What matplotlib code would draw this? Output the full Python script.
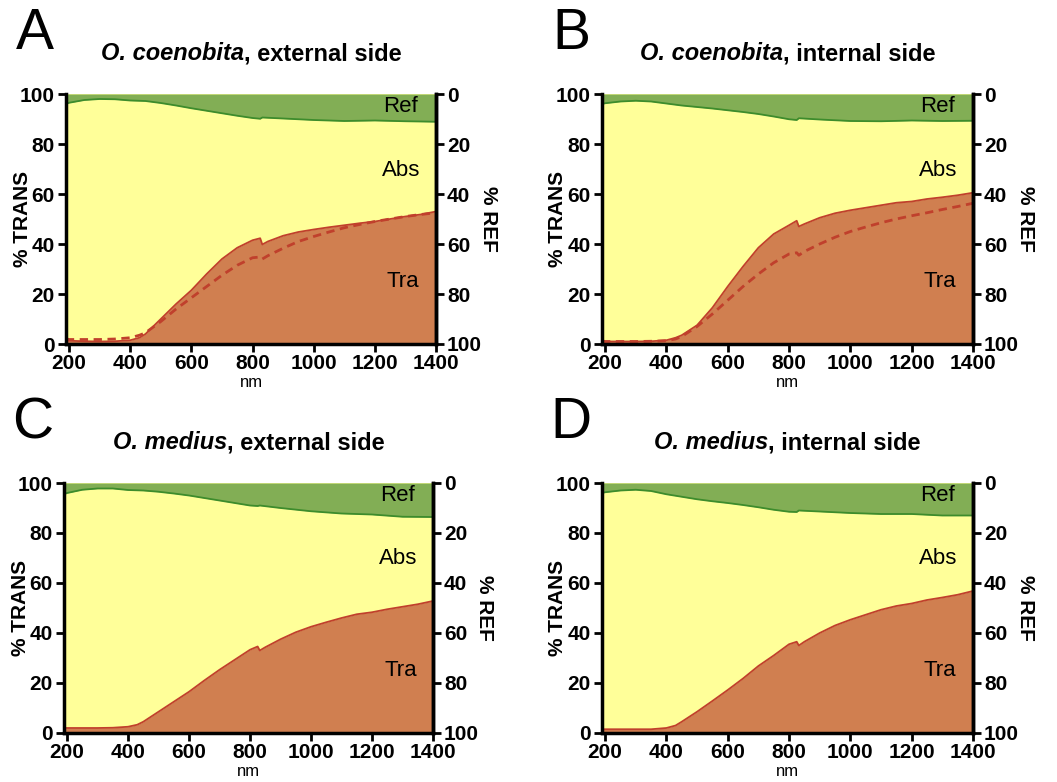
"""
Reflectance / absorbance / transmittance spectra of Ophiocoma shells.
"""
import numpy as np
import matplotlib.pyplot as plt

plt.rcParams['font.family'] = ['Liberation Sans', 'DejaVu Sans']
plt.rcParams['font.weight'] = 'bold'

# wavelength grids (nm)
wl_ref = [190, 200, 250, 300, 350, 400, 450, 500, 550, 600, 650, 700, 750,
          800, 825, 832, 900, 1000, 1100, 1200, 1300, 1400]
wl_tra = [190, 193, 200, 250, 300, 350, 400, 430, 450, 500, 550, 600, 650,
          700, 750, 800, 825, 832, 850, 900, 950, 1000, 1050, 1100, 1150,
          1200, 1250, 1300, 1350, 1400]

# upper edge of absorbance band (100 - %REF), per panel
ref_A = [96.0, 96.5, 97.6, 98.0, 97.9, 97.4, 97.2, 96.4, 95.4, 94.3, 93.3, 92.3,
         91.3, 90.4, 90.1, 90.6, 90.2, 89.6, 89.2, 89.4, 89.1, 88.9]
ref_B = [96.0, 96.3, 97.0, 97.3, 97.0, 96.2, 95.4, 94.8, 94.2, 93.5, 92.8, 92.0,
         91.0, 89.9, 89.6, 90.3, 89.8, 89.2, 89.1, 89.4, 89.2, 89.3]
ref_C = [95.5, 96.0, 97.3, 97.8, 97.8, 97.2, 97.0, 96.5, 95.8, 95.0, 94.0, 93.0,
         92.0, 91.0, 90.8, 91.0, 90.0, 88.7, 87.8, 87.4, 86.5, 86.4]
ref_D = [96.0, 96.3, 97.0, 97.3, 96.8, 95.5, 94.5, 93.5, 92.7, 92.0, 91.2, 90.3,
         89.3, 88.5, 88.4, 89.0, 88.6, 88.0, 87.6, 87.6, 87.0, 87.0]

# % transmittance
tra_A = [3.5, 1.5, 1.3, 1.1, 1.0, 1.1, 1.5, 2.5, 4.0, 10.0, 16.0, 21.5, 28.0, 34.0,
         38.5, 41.5, 42.3, 39.8, 41.0, 43.3, 44.8, 45.8, 46.7, 47.5, 48.3, 49.0,
         50.0, 51.0, 51.8, 53.0]
tra_B = [3.5, 1.5, 1.0, 1.0, 1.0, 1.1, 1.5, 2.5, 3.5, 7.5, 14.5, 23.0, 31.0, 38.5,
         44.0, 47.5, 49.3, 47.0, 48.0, 50.5, 52.3, 53.5, 54.5, 55.5, 56.5, 57.0,
         58.0, 58.7, 59.5, 60.5]
tra_C = [4.0, 2.0, 2.0, 2.0, 2.0, 2.1, 2.5, 3.3, 4.5, 8.5, 12.5, 16.5, 21.0, 25.3,
         29.3, 33.3, 34.6, 33.0, 34.3, 37.5, 40.3, 42.5, 44.3, 46.0, 47.5, 48.3,
         49.5, 50.5, 51.5, 52.8]
tra_D = [3.5, 1.5, 1.5, 1.5, 1.5, 1.5, 2.0, 3.0, 4.5, 8.5, 12.8, 17.2, 21.8, 26.8,
         31.0, 35.5, 36.5, 35.0, 36.5, 40.0, 43.0, 45.3, 47.3, 49.3, 50.8, 51.8,
         53.2, 54.2, 55.3, 56.8]

# dashed comparison curves (panels A and B only)
dash_A = [2.2, 2.0, 1.8, 1.8, 1.8, 2.0, 2.5, 3.5, 4.5, 9.0, 14.0, 18.5, 23.0, 27.5,
          31.5, 34.5, 34.8, 34.0, 35.3, 38.3, 41.0, 43.0, 44.8, 46.5, 47.8, 49.0,
          50.0, 51.0, 51.8, 52.5]
dash_B = [1.2, 1.1, 1.0, 1.0, 1.0, 1.1, 1.3, 2.0, 3.0, 7.0, 12.0, 17.5, 23.0, 28.0,
          32.5, 36.0, 36.5, 35.5, 37.0, 40.0, 42.7, 45.0, 46.8, 48.5, 50.0, 51.3,
          52.5, 53.8, 55.0, 56.3]

letters = ['A', 'B', 'C', 'D']
species = ['O. coenobita', 'O. coenobita', 'O. medius', 'O. medius']
sides = [', external side', ', internal side', ', external side', ', internal side']
ticks_x = [200, 400, 600, 800, 1000, 1200, 1400]
ticks_y = [0, 20, 40, 60, 80, 100]

GREEN = '#82ae55'
GREEN_LINE = '#3d8c2c'
YELLOW = '#ffff99'
BROWN = '#d07f50'
RED_LINE = '#c0402c'

W, H = 1057, 782
fig = plt.figure(figsize=(W / 100, H / 100), dpi=100)
renderer = fig.canvas.get_renderer()

# axes boxes in pixels: left, top, right, bottom
boxes = [(66, 94, 436, 344), (602, 94, 973, 344),
         (64, 483, 433, 733), (602, 483, 973, 733)]
refs = [ref_A, ref_B, ref_C, ref_D]
tras = [tra_A, tra_B, tra_C, tra_D]
dashes = [dash_A, dash_B, None, None]


def mixed_title(xc, y_base, italic, rest, size):
    # bold-italic species name followed by bold plain text, centred at xc
    t1 = fig.text(0, 1 - y_base / H, italic, fontsize=size, fontstyle='italic',
                  va='baseline', ha='left')
    t2 = fig.text(0, 1 - y_base / H, rest, fontsize=size, va='baseline', ha='left')
    w1 = t1.get_window_extent(renderer).width
    w2 = t2.get_window_extent(renderer).width
    x0 = xc - (w1 + w2) / 2
    t1.set_x(x0 / W)
    t2.set_x((x0 + w1) / W)


for i in range(4):
    l, t, r, b = boxes[i]
    ax = fig.add_axes([l / W, 1 - b / H, (r - l) / W, (b - t) / H])
    ax.set_facecolor(YELLOW)
    ax.fill_between(wl_ref, refs[i], 100, color=GREEN, lw=0)
    ax.plot(wl_ref, refs[i], color=GREEN_LINE, lw=1.3)
    ax.fill_between(wl_tra, 0, tras[i], color=BROWN, lw=0)
    ax.plot(wl_tra, tras[i], color=RED_LINE, lw=1.3)
    if dashes[i] is not None:
        ax.plot(wl_tra, dashes[i], color=RED_LINE, lw=2, ls=(0, (3, 2)))

    ax.set_xlim(190, 1400)
    ax.set_ylim(0, 100)
    ax.set_xticks(ticks_x)
    ax.set_yticks(ticks_y)
    ax.tick_params(direction='out', length=6, width=2, labelsize=15)
    ax.tick_params(axis='x', pad=1)
    ax.tick_params(axis='y', pad=2)
    ax.spines['top'].set_visible(False)
    for s in ['left', 'right', 'bottom']:
        ax.spines[s].set_linewidth(2.5)
    ax.set_ylabel('% TRANS', fontsize=15, fontweight='bold')
    ax.yaxis.set_label_coords(-0.093, 0.5)
    ax.set_xlabel('nm', fontsize=12, fontweight='normal', va='top')
    ax.xaxis.set_label_coords(0.5, -0.124)

    ax2 = ax.twinx()
    ax2.set_ylim(100, 0)
    ax2.set_yticks(ticks_y)
    ax2.tick_params(direction='out', length=6, width=2, labelsize=15, pad=2)
    ax2.spines['top'].set_visible(False)
    ax2.spines['right'].set_linewidth(2.5)
    ax2.set_ylabel('% REF', fontsize=15, fontweight='bold', rotation=270,
                   va='bottom', ha='center', rotation_mode='anchor')
    ax2.yaxis.set_label_coords(1.115, 0.5)

    ax.text(1285, 95, 'Ref', fontsize=16, fontweight='normal', ha='center', va='center')
    ax.text(1285, 69.6, 'Abs', fontsize=16, fontweight='normal', ha='center', va='center')
    ax.text(1293, 25, 'Tra', fontsize=16, fontweight='normal', ha='center', va='center')

    mixed_title((l + r) / 2, t - 34, species[i], sides[i], 17)
    fig.text((l - 31) / W, 1 - (t - 60) / H, letters[i], fontsize=41,
             fontweight='normal', ha='center', va='center')

fig.savefig('out.png', dpi=100)
